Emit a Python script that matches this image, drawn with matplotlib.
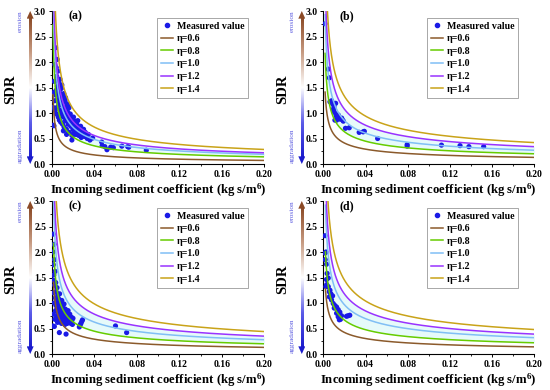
import numpy as np
import matplotlib
matplotlib.use("Agg")
import matplotlib.pyplot as plt
from matplotlib.colors import LinearSegmentedColormap
from matplotlib.lines import Line2D
from matplotlib.patches import Polygon
from matplotlib.ticker import MultipleLocator, FormatStrFormatter

W, H = 550, 390   # figure size in pixels

ETA_LABELS = ["η=0.6", "η=0.8", "η=1.0", "η=1.2", "η=1.4"]
ETA_COLORS = ["#8b5a2b", "#66cc00", "#80bff5", "#9933ff", "#c9a319"]
POINT_COLOR = "#1a1ae6"
TAGS = ["(a)", "(b)", "(c)", "(d)"]

# SDR of every eta curve read at x = 0.20, per panel
TAIL_A = [0.07, 0.14, 0.19, 0.22, 0.285]
TAIL_B = [0.13, 0.20, 0.27, 0.34, 0.42]
TAIL_C = [0.13, 0.20, 0.28, 0.35, 0.44]
TAIL_D = [0.14, 0.22, 0.32, 0.39, 0.48]
# power-law slope of the curves and first x of the curves, per panel
SLOPES = [0.58, 0.50, 0.50, 0.48]
X_START = [0.0012, 0.0017, 0.0017, 0.002]

# measured values
XA = [0.0012, 0.0015, 0.0018, 0.0021, 0.0024, 0.0028, 0.0030, 0.0032, 0.0034, 0.0036,
      0.0038, 0.0040, 0.0043, 0.0045, 0.0047, 0.0050, 0.0052, 0.0053, 0.0055, 0.0058,
      0.0060, 0.0062, 0.0065, 0.0068, 0.0070, 0.0072, 0.0075, 0.0078, 0.0080, 0.0083,
      0.0085, 0.0088, 0.0090, 0.0093, 0.0096, 0.0100, 0.0102, 0.0105, 0.0108, 0.0110,
      0.0114, 0.0117, 0.0120, 0.0123, 0.0126, 0.0130, 0.0134, 0.0138, 0.0142, 0.0146,
      0.0150, 0.0154, 0.0158, 0.0162, 0.0166, 0.0170, 0.0175, 0.0180, 0.0185, 0.0190,
      0.0195, 0.0200, 0.0205, 0.0210, 0.0215, 0.0220, 0.0225, 0.0230, 0.0236, 0.0242,
      0.0248, 0.0254, 0.0260, 0.0266, 0.0272, 0.0278, 0.0285, 0.0292, 0.0300, 0.0308,
      0.0316, 0.0325, 0.0335, 0.0345, 0.0360, 0.0385, 0.0470, 0.0475, 0.0500, 0.0520,
      0.0555, 0.0580, 0.0660, 0.0715, 0.0725, 0.0890, 0.0095, 0.0130, 0.0155, 0.0205,
      0.0245, 0.0140, 0.0110, 0.0190]
YA = [1.11, 0.76, 1.40, 0.75, 1.62, 1.24, 1.95, 1.05, 1.63, 2.28,
      1.35, 1.44, 1.89, 0.98, 1.72, 1.25, 2.05, 1.52, 1.12, 1.82,
      1.38, 0.92, 1.60, 1.18, 1.45, 0.86, 1.30, 1.66, 1.05, 1.38,
      0.82, 1.22, 1.48, 0.98, 1.15, 1.32, 0.78, 1.05, 1.22, 0.92,
      1.38, 0.72, 1.10, 0.96, 1.25, 0.85, 1.05, 0.68, 1.18, 0.92,
      1.02, 0.78, 0.95, 1.10, 0.62, 0.86, 0.98, 0.74, 0.90, 0.56,
      0.82, 0.68, 0.92, 0.76, 0.62, 0.84, 0.70, 0.58, 0.78, 0.64,
      0.72, 0.56, 0.68, 0.60, 0.74, 0.52, 0.64, 0.58, 0.68, 0.54,
      0.62, 0.56, 0.50, 0.58, 0.47, 0.51, 0.43, 0.36, 0.34, 0.28,
      0.33, 0.32, 0.35, 0.34, 0.33, 0.27, 1.55, 1.30, 1.15, 0.58,
      0.85, 0.58, 0.65, 0.47]

XB = [0.0016, 0.0047, 0.0057, 0.0063, 0.0079, 0.0088, 0.0095, 0.0101, 0.0104, 0.0110,
      0.0117, 0.0120, 0.0126, 0.0126, 0.0133, 0.0142, 0.0158, 0.0174, 0.0183, 0.0190,
      0.0210, 0.0246, 0.0340, 0.0378, 0.0389, 0.0515, 0.0795, 0.0795, 0.1120, 0.1296,
      0.1380, 0.1520]
YB = [2.75, 1.86, 1.69, 1.22, 1.24, 1.18, 1.07, 1.12, 1.02, 0.86,
      1.19, 0.97, 0.93, 0.86, 0.92, 0.96, 0.88, 0.90, 0.86, 0.84,
      0.70, 0.71, 0.62, 0.63, 0.64, 0.50, 0.38, 0.35, 0.37, 0.36,
      0.34, 0.34]

XC = [0.0010, 0.0012, 0.0013, 0.0014, 0.0015, 0.0016, 0.0018, 0.0020, 0.0022, 0.0024,
      0.0025, 0.0026, 0.0028, 0.0030, 0.0032, 0.0034, 0.0036, 0.0038, 0.0040, 0.0042,
      0.0045, 0.0047, 0.0050, 0.0052, 0.0055, 0.0058, 0.0060, 0.0063, 0.0066, 0.0068,
      0.0070, 0.0072, 0.0074, 0.0077, 0.0080, 0.0083, 0.0086, 0.0089, 0.0092, 0.0095,
      0.0098, 0.0101, 0.0104, 0.0107, 0.0110, 0.0113, 0.0116, 0.0119, 0.0122, 0.0125,
      0.0128, 0.0131, 0.0135, 0.0135, 0.0138, 0.0142, 0.0146, 0.0150, 0.0154, 0.0158,
      0.0162, 0.0166, 0.0170, 0.0175, 0.0180, 0.0185, 0.0190, 0.0195, 0.0200, 0.0260,
      0.0268, 0.0275, 0.0283, 0.0290, 0.0600, 0.0705]
YC = [0.55, 1.45, 2.00, 2.35, 1.75, 0.78, 1.20, 1.55, 2.15, 1.00,
      0.54, 1.85, 1.35, 0.68, 1.62, 1.10, 0.85, 1.40, 0.95, 1.22,
      0.72, 1.05, 1.30, 0.88, 0.62, 1.15, 0.98, 0.78, 1.08, 0.70,
      0.92, 0.42, 1.18, 0.82, 0.66, 1.00, 0.75, 0.88, 0.60, 1.05,
      0.80, 0.70, 0.92, 0.62, 0.85, 0.74, 0.98, 0.66, 0.80, 0.58,
      0.88, 0.72, 0.39, 0.64, 0.82, 0.76, 0.60, 0.70, 0.85, 0.66,
      0.74, 0.62, 0.78, 0.68, 0.60, 0.72, 0.66, 0.58, 0.70, 0.53,
      0.57, 0.60, 0.64, 0.67, 0.55, 0.42]

XD = [0.0016, 0.0016, 0.0018, 0.0025, 0.0030, 0.0032, 0.0036, 0.0030, 0.0047, 0.0025,
      0.0047, 0.0057, 0.0063, 0.0072, 0.0057, 0.0088, 0.0078, 0.0094, 0.0110, 0.0126,
      0.0104, 0.0141, 0.0157, 0.0126, 0.0173, 0.0141, 0.0163, 0.0152, 0.0220, 0.0235,
      0.0251]
YD = [2.32, 1.98, 1.85, 2.00, 1.76, 1.36, 1.58, 1.46, 1.49, 1.32,
      1.32, 1.22, 1.25, 1.18, 1.12, 1.14, 1.06, 0.99, 0.95, 0.92,
      0.90, 0.87, 0.82, 0.80, 0.75, 0.73, 0.68, 0.67, 0.74, 0.75,
      0.76]

plt.rcParams.update({
    "font.family": "serif",
    "font.serif": ["Liberation Serif", "DejaVu Serif"],
    "font.weight": "bold",
    "axes.labelweight": "bold",
    "mathtext.fontset": "custom",
    "mathtext.rm": "Liberation Serif:bold",
    "mathtext.it": "Liberation Serif:italic:bold",
    "mathtext.bf": "Liberation Serif:bold",
})

ARROW_CMAP = LinearSegmentedColormap.from_list(
    "sdr", ["#1a1acc", "#5c5ce8", "#ffffff", "#c79b82", "#8b4a26"])


def px(x, y):
    return x / W, 1 - y / H


def draw_panel(fig, rect, xs, ys, tails, slope, x0, tag):
    ax = fig.add_axes(rect)
    x = np.geomspace(x0, 0.2, 500)
    curves = [t * (x / 0.2) ** (-slope) for t in tails]

    ax.fill_between(x, curves[1], curves[3], color="#e6fafa", lw=0, zorder=1)
    ax.scatter(xs, ys, s=14, color=POINT_COLOR, edgecolors="none", zorder=3)
    for y, c in zip(curves, ETA_COLORS):
        ax.plot(x, y, color=c, lw=1.1, zorder=4)

    ax.set_xlim(0, 0.2)
    ax.set_ylim(0, 3.0)
    ax.xaxis.set_major_locator(MultipleLocator(0.04))
    ax.xaxis.set_minor_locator(MultipleLocator(0.02))
    ax.yaxis.set_major_locator(MultipleLocator(0.5))
    ax.yaxis.set_minor_locator(MultipleLocator(0.25))
    ax.xaxis.set_major_formatter(FormatStrFormatter("%.2f"))
    ax.yaxis.set_major_formatter(FormatStrFormatter("%.1f"))
    ax.tick_params(which="major", direction="out", length=2.5, width=0.7,
                   labelsize=7, pad=1.5)
    ax.tick_params(which="minor", direction="out", length=1.5, width=0.6)
    for s in ("top", "right"):
        ax.spines[s].set_visible(False)
    for s in ("left", "bottom"):
        ax.spines[s].set_linewidth(0.8)
    ax.set_xlabel("Incoming sediment coefficient (kg s/m$^{6}$)",
                  fontsize=9.2, labelpad=2)

    ax.text(0.077, 0.967, tag, transform=ax.transAxes, fontsize=8.5,
            fontweight="bold", va="center", ha="left")

    handles = [Line2D([], [], marker="o", ls="none", color=POINT_COLOR,
                      markersize=3.0, label="Measured value")]
    handles += [Line2D([], [], color=c, lw=1.1, label=l)
                for c, l in zip(ETA_COLORS, ETA_LABELS)]
    leg = ax.legend(handles=handles, loc="upper right",
                    bbox_to_anchor=(0.925, 0.955), fontsize=7.1,
                    frameon=True, fancybox=False, edgecolor="#808080",
                    handlelength=1.25, handletextpad=0.35, labelspacing=0.36,
                    borderpad=0.4, borderaxespad=0)
    leg.get_frame().set_linewidth(0.6)

    # gradient arrow erosion / aggradation at the left of the axis
    l, b, w, h = rect
    bar = fig.add_axes([l - 25 / W, b, 7 / W, h])
    bar.set_xlim(-1, 1)
    bar.set_ylim(0, 3)
    bar.axis("off")
    grad = np.linspace(0, 1, 256).reshape(-1, 1)
    bar.imshow(grad, cmap=ARROW_CMAP, origin="lower", aspect="auto",
               extent=(-0.36, 0.36, 0.12, 2.88))
    bar.add_patch(Polygon([(-1, 2.85), (1, 2.85), (0, 3.0)], closed=True,
                          color="#8b4a26", lw=0))
    bar.add_patch(Polygon([(-1, 0.15), (1, 0.15), (0, 0.0)], closed=True,
                          color="#1a1acc", lw=0))
    bar.set_xlim(-1, 1)

    left_px = l * W
    top_px = (1 - b - h) * H
    bot_px = (1 - b) * H
    fig.text(*px(left_px - 31.5, top_px + 10), "erosion", rotation=90,
             fontsize=5.2, fontweight="normal", color="#5a5ae0",
             ha="center", va="center")
    fig.text(*px(left_px - 31.5, bot_px - 18), "aggradation", rotation=90,
             fontsize=5.2, fontweight="normal", color="#5a5ae0",
             ha="center", va="center")
    fig.text(*px(left_px - 41, top_px + 78), "SDR", rotation=90,
             fontsize=10.5, fontweight="bold", ha="center", va="center")
    return ax


fig = plt.figure(figsize=(W / 100, H / 100), dpi=100)

rects = [
    [51.7 / W, 1 - 164 / H, 212.6 / W, 153 / H],
    [323.3 / W, 1 - 164 / H, 211 / W, 153 / H],
    [51.7 / W, 1 - 354 / H, 212.6 / W, 153 / H],
    [323.3 / W, 1 - 354 / H, 211 / W, 153 / H],
]
data = [(XA, YA, TAIL_A), (XB, YB, TAIL_B), (XC, YC, TAIL_C), (XD, YD, TAIL_D)]

for i, (rect, (xs, ys, tails)) in enumerate(zip(rects, data)):
    draw_panel(fig, rect, xs, ys, tails, SLOPES[i], X_START[i], TAGS[i])

fig.savefig("out.png", dpi=100)
